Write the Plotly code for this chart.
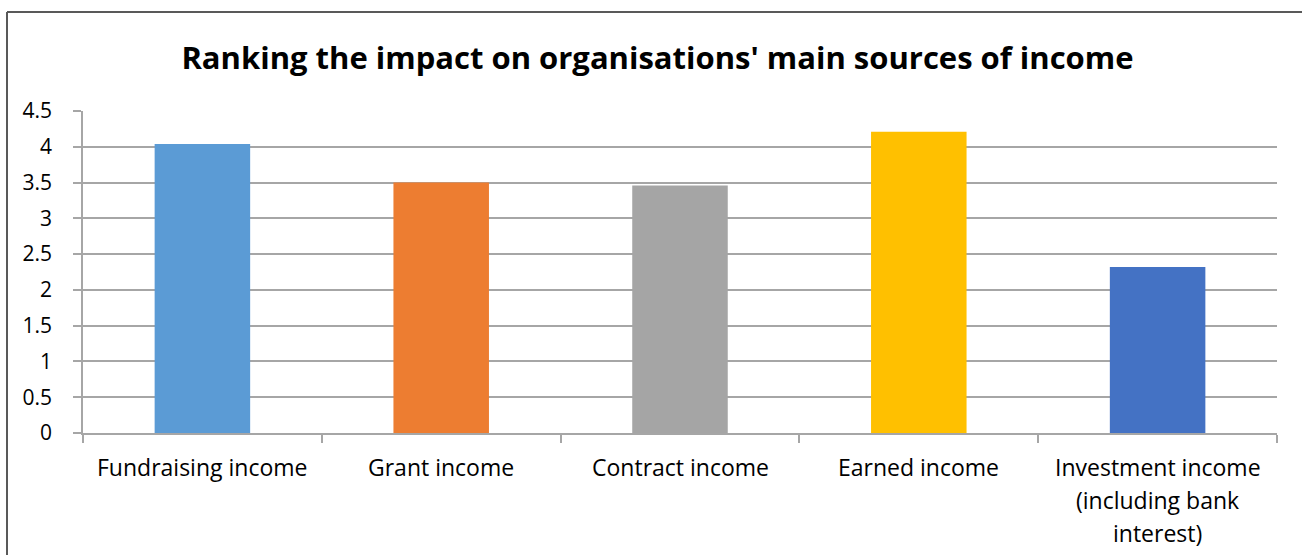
import plotly.graph_objects as go

# Chart data
categories = [
    "Fundraising income",
    "Grant income",
    "Contract income",
    "Earned income",
    "Investment income (including bank interest)",
]
label_lines = [
    ["Fundraising income"],
    ["Grant income"],
    ["Contract income"],
    ["Earned income"],
    ["Investment income", "(including bank", "interest)"],
]
scores = [4.04, 3.5, 3.46, 4.21, 2.32]
bar_colors = ["#5B9BD5", "#ED7D31", "#A5A5A5", "#FFC000", "#4472C4"]
y_ticks = [0, 0.5, 1, 1.5, 2, 2.5, 3, 3.5, 4, 4.5]
y_tick_text = ["0", "0.5", "1", "1.5", "2", "2.5", "3", "3.5", "4", "4.5"]

FONT = "Open Sans, Carlito, Calibri, sans-serif"
W, H = 1302, 555
M_L, M_R, M_T, M_B = 83, 25, 111, 122
plot_h = H - M_T - M_B
plot_w = W - M_L - M_R

fig = go.Figure(
    go.Bar(
        x=categories,
        y=scores,
        marker=dict(color=bar_colors, line=dict(width=0)),
        hoverinfo="x+y",
    )
)

# Category labels, one annotation per wrapped line
annotations = []
for cat, lines in zip(categories, label_lines):
    for i, line in enumerate(lines):
        py = 467 + 33 * i
        annotations.append(
            dict(
                x=cat, xref="x",
                y=(H - M_B - py) / plot_h, yref="paper",
                text=line, showarrow=False,
                xanchor="center", yanchor="middle",
                font=dict(family=FONT, size=23, color="#000000"),
            )
        )

# Chart frame (left and top edges)
fx = (7 - M_L) / plot_w
fy = (H - M_B - 12) / plot_h
fy_bottom = (H - M_B - H - 5) / plot_h
fx_right = (W + 5 - M_L) / plot_w
shapes = [
    dict(type="line", xref="paper", yref="paper", x0=fx, x1=fx, y0=fy, y1=fy_bottom,
         line=dict(color="#595959", width=2)),
    dict(type="line", xref="paper", yref="paper", x0=fx, x1=fx_right, y0=fy, y1=fy,
         line=dict(color="#595959", width=2)),
]

fig.update_layout(
    width=W,
    height=H,
    margin=dict(l=M_L, r=M_R, t=M_T, b=M_B, pad=0),
    paper_bgcolor="white",
    plot_bgcolor="white",
    bargap=0.6,
    showlegend=False,
    title=dict(
        text="<b>Ranking the impact on organisations' main sources of income</b>",
        x=657.5 / W, xanchor="center",
        y=1 - 58 / H, yanchor="middle",
        font=dict(family=FONT, size=31, color="#000000"),
    ),
    xaxis=dict(
        type="category",
        showticklabels=False,
        showgrid=False,
        showline=True,
        linecolor="#A6A6A6",
        linewidth=1.5,
        ticks="outside",
        tickson="boundaries",
        ticklen=8,
        tickcolor="#A6A6A6",
        tickwidth=1.5,
    ),
    yaxis=dict(
        range=[0, 4.5],
        tickvals=y_ticks,
        ticktext=y_tick_text,
        showgrid=True,
        gridcolor="#A6A6A6",
        gridwidth=1.5,
        showline=True,
        linecolor="#A6A6A6",
        linewidth=1.5,
        ticks="outside",
        ticklen=8,
        tickcolor="#A6A6A6",
        tickwidth=1.5,
        ticklabelstandoff=17,
        zeroline=False,
        tickfont=dict(family=FONT, size=21, color="#000000"),
    ),
    annotations=annotations,
    shapes=shapes,
)

fig.write_html("out.html")
